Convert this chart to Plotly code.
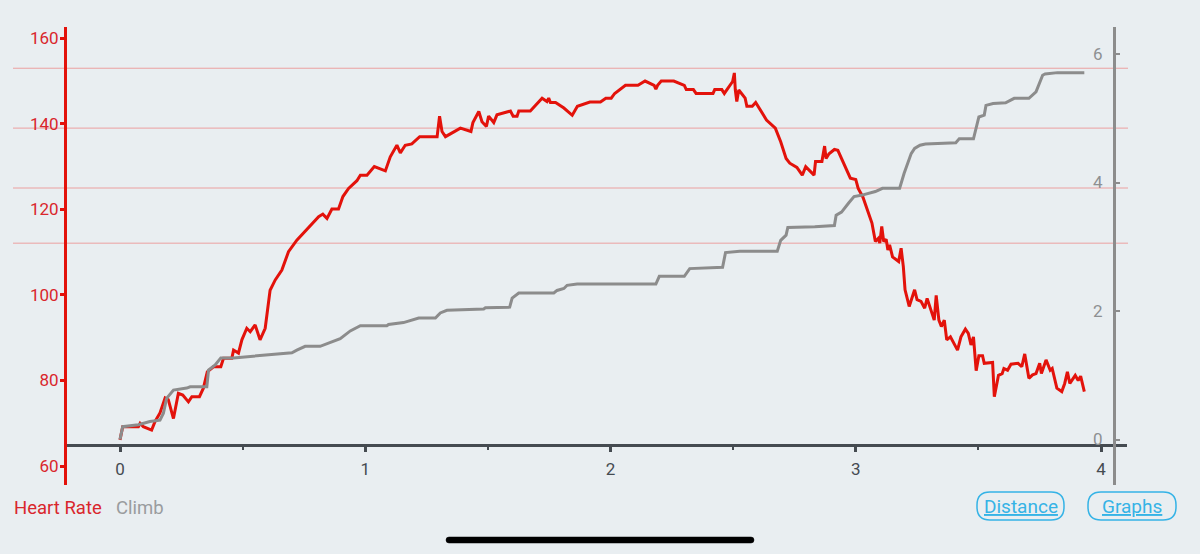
import plotly.graph_objects as go

# ---------------- data ----------------
hr_x = [0.000, 0.011, 0.075, 0.082, 0.095, 0.129, 0.143, 0.163, 0.184, 0.197, 0.218, 0.238, 0.256, 0.279,
        0.293, 0.324, 0.340, 0.356, 0.381, 0.411, 0.422, 0.456, 0.463, 0.483, 0.497, 0.517, 0.531, 0.551,
        0.571, 0.592, 0.612, 0.633, 0.660, 0.687, 0.721, 0.748, 0.776, 0.810, 0.827, 0.844, 0.864, 0.891,
        0.909, 0.932, 0.966, 0.980, 1.007, 1.037, 1.082, 1.102, 1.129, 1.143, 1.163, 1.190, 1.222, 1.293,
        1.303, 1.313, 1.327, 1.388, 1.431, 1.439, 1.463, 1.476, 1.494, 1.503, 1.524, 1.537, 1.592, 1.603,
        1.619, 1.626, 1.673, 1.721, 1.741, 1.748, 1.755, 1.776, 1.810, 1.844, 1.865, 1.916, 1.959, 1.981,
        2.003, 2.017, 2.061, 2.112, 2.141, 2.178, 2.185, 2.192, 2.207, 2.258, 2.301, 2.309, 2.338, 2.349,
        2.418, 2.425, 2.454, 2.464, 2.498, 2.505, 2.509, 2.515, 2.523, 2.549, 2.556, 2.578, 2.592, 2.614,
        2.636, 2.672, 2.694, 2.716, 2.731, 2.760, 2.782, 2.796, 2.818, 2.830, 2.836, 2.862, 2.873, 2.879,
        2.891, 2.913, 2.927, 2.978, 3.000, 3.010, 3.029, 3.066, 3.080, 3.092, 3.098, 3.106, 3.114, 3.124,
        3.131, 3.138, 3.150, 3.164, 3.175, 3.185, 3.194, 3.201, 3.218, 3.240, 3.250, 3.266, 3.281, 3.291,
        3.303, 3.320, 3.328, 3.339, 3.349, 3.361, 3.371, 3.386, 3.415, 3.429, 3.447, 3.459, 3.470, 3.480,
        3.491, 3.502, 3.517, 3.524, 3.558, 3.565, 3.582, 3.597, 3.604, 3.619, 3.633, 3.662, 3.677, 3.689,
        3.706, 3.721, 3.735, 3.750, 3.757, 3.776, 3.793, 3.801, 3.820, 3.840, 3.852, 3.863, 3.873, 3.895,
        3.907, 3.917, 3.932]
hr_y = [66.1, 69.2, 69.2, 70.0, 69.2, 68.4, 70.4, 72.4, 75.9, 75.5, 71.1, 77.0, 76.6, 75.0,
        76.2, 76.2, 78.2, 82.0, 83.2, 83.2, 85.2, 85.2, 87.1, 86.4, 89.5, 92.2, 91.4, 93.0,
        89.5, 92.2, 101.1, 103.5, 105.8, 110.1, 112.8, 114.4, 116.3, 118.3, 118.9, 117.9, 120.1, 120.1,
        123.0, 124.9, 126.7, 128.0, 128.0, 130.0, 129.0, 132.3, 135.0, 133.2, 135.0, 135.3, 137.0, 137.0,
        141.8, 138.2, 137.0, 139.0, 138.2, 140.3, 142.9, 140.5, 139.4, 141.8, 140.3, 142.1, 143.0, 141.8,
        141.8, 143.0, 143.0, 146.0, 145.2, 146.0, 145.0, 145.0, 143.7, 142.0, 144.1, 145.1, 145.1, 146.0,
        146.0, 147.1, 149.0, 149.0, 150.0, 149.0, 148.1, 149.0, 150.0, 150.0, 149.0, 148.0, 148.0, 147.1,
        147.1, 148.0, 148.0, 147.1, 149.9, 151.9, 147.9, 145.2, 147.9, 146.0, 144.1, 144.1, 145.0, 142.9,
        140.9, 139.0, 135.8, 131.9, 130.8, 129.8, 128.0, 130.0, 128.8, 128.0, 131.2, 131.2, 134.8, 131.9,
        133.0, 134.0, 133.8, 127.3, 127.0, 124.9, 122.9, 116.8, 112.5, 113.2, 112.1, 116.0, 112.5, 113.0,
        110.5, 111.7, 108.9, 108.2, 107.8, 110.9, 106.6, 101.2, 97.3, 101.2, 98.9, 98.5, 96.9, 99.2,
        96.9, 94.1, 99.9, 94.1, 92.6, 94.1, 89.5, 90.2, 87.1, 90.2, 92.0, 91.0, 88.3, 90.2,
        82.3, 85.8, 85.8, 84.0, 84.2, 76.2, 81.2, 81.6, 82.8, 82.4, 83.8, 84.0, 83.2, 86.2,
        80.5, 81.3, 81.6, 84.0, 81.6, 84.8, 82.4, 82.8, 78.2, 77.4, 79.3, 82.0, 79.3, 81.2,
        80.0, 81.0, 77.4]

climb_x = [0.000, 0.011, 0.075, 0.122, 0.163, 0.177, 0.190, 0.218, 0.272, 0.286, 0.354, 0.361, 0.388,
           0.411, 0.463, 0.558, 0.639, 0.701, 0.721, 0.755, 0.816, 0.844, 0.898, 0.939, 0.980, 1.088,
           1.095, 1.156, 1.218, 1.286, 1.306, 1.333, 1.483, 1.490, 1.589, 1.599, 1.626, 1.769, 1.782,
           1.810, 1.823, 1.864, 2.185, 2.199, 2.301, 2.323, 2.457, 2.469, 2.527, 2.680, 2.694, 2.716,
           2.723, 2.833, 2.913, 2.920, 2.942, 2.971, 2.993, 3.022, 3.080, 3.109, 3.179, 3.197, 3.226,
           3.240, 3.262, 3.284, 3.408, 3.422, 3.480, 3.502, 3.524, 3.531, 3.560, 3.611, 3.646, 3.706,
           3.735, 3.762, 3.772, 3.823, 3.932]
climb_y = [0.00, 0.20, 0.23, 0.28, 0.30, 0.41, 0.64, 0.77, 0.80, 0.82, 0.82, 1.08, 1.16,
           1.27, 1.27, 1.30, 1.32, 1.35, 1.39, 1.45, 1.45, 1.49, 1.57, 1.69, 1.77, 1.77,
           1.79, 1.82, 1.89, 1.89, 1.97, 2.01, 2.03, 2.05, 2.06, 2.20, 2.28, 2.28, 2.32,
           2.35, 2.40, 2.42, 2.42, 2.54, 2.54, 2.66, 2.68, 2.91, 2.93, 2.93, 3.10, 3.18,
           3.30, 3.31, 3.33, 3.49, 3.54, 3.68, 3.78, 3.80, 3.86, 3.91, 3.91, 4.14, 4.45,
           4.53, 4.58, 4.60, 4.62, 4.68, 4.68, 5.02, 5.05, 5.20, 5.23, 5.24, 5.31, 5.31,
           5.41, 5.67, 5.69, 5.71, 5.71]

hr_ticks = [60, 80, 100, 120, 140, 160]
climb_ticks = [0, 2, 4, 6]
dist_ticks = [0, 1, 2, 3, 4]
hr_zones = [112.1, 125, 139, 153]
legend_labels = ["Heart Rate", "Climb"]
button_labels = ["Distance", "Graphs"]

# ---------------- styling / geometry ----------------
W, H = 1200, 554
L, R, T, B = 67, 1127, 27, 485   # plot area in px
BG = "#E9EEF1"
RED = "#E3120B"
RED_TXT = "#D9262C"
GRAY = "#8C8C8C"
GRAY_TXT = "#8E9092"
DARK = "#454B51"
BLUE = "#35B3E6"
ZONE = "#EBA0A0"
FONT = "Roboto"


def xp(px):
    return (px - L) / (R - L)


def yp(py):
    return (B - py) / (B - T)


# pixel -> data mapping for axes (derived from reference geometry)
x0_px, x_unit = 120.0, 245.25
hr60_px, hr_unit = 466.0, 4.277
c0_px, c_unit = 439.5, 64.25

x_range = [(L - x0_px) / x_unit, (R - x0_px) / x_unit]
hr_range = [60 + (hr60_px - B) / hr_unit, 60 + (hr60_px - T) / hr_unit]
c_range = [(c0_px - B) / c_unit, (c0_px - T) / c_unit]

fig = go.Figure()

fig.add_trace(go.Scatter(x=climb_x, y=climb_y, mode="lines", yaxis="y2",
                         line=dict(color=GRAY, width=3), name="Climb", showlegend=False))
fig.add_trace(go.Scatter(x=hr_x, y=hr_y, mode="lines", yaxis="y",
                         line=dict(color=RED, width=3), name="Heart Rate", showlegend=False))

shapes = []
for z in hr_zones:
    shapes.append(dict(type="line", xref="paper", yref="y", x0=xp(13), x1=xp(1128), y0=z, y1=z,
                       line=dict(color=ZONE, width=1), layer="below"))


def rounded_rect(x0, y0, x1, y1, r):
    rx = r / (R - L)
    ry = r / (B - T)
    a, b = xp(x0), xp(x1)
    top, bot = yp(y0), yp(y1)
    p = (f"M {a+rx},{top} L {b-rx},{top} Q {b},{top} {b},{top-ry} "
         f"L {b},{bot+ry} Q {b},{bot} {b-rx},{bot} L {a+rx},{bot} "
         f"Q {a},{bot} {a},{bot+ry} L {a},{top-ry} Q {a},{top} {a+rx},{top} Z")
    return p


boxes = [(977, 492, 1064, 520), (1088, 492, 1176, 520)]
for (bx0, by0, bx1, by1) in boxes:
    shapes.append(dict(type="path", xref="paper", yref="paper",
                       path=rounded_rect(bx0, by0, bx1, by1, 13),
                       line=dict(color=BLUE, width=1.5), fillcolor="rgba(0,0,0,0)"))

# home indicator bar
shapes.append(dict(type="path", xref="paper", yref="paper",
                   path=rounded_rect(446, 537, 754, 543, 3),
                   line=dict(color="black", width=0.5), fillcolor="black"))

annotations = [
    dict(text=legend_labels[0], xref="paper", yref="paper", x=xp(12), y=yp(508),
         xanchor="left", yanchor="middle", showarrow=False,
         font=dict(family=FONT, size=18.5, color=RED_TXT)),
    dict(text=legend_labels[1], xref="paper", yref="paper", x=xp(114), y=yp(508),
         xanchor="left", yanchor="middle", showarrow=False,
         font=dict(family=FONT, size=18.5, color="#9A9C9E")),
]
for lbl, (bx0, by0, bx1, by1) in zip(button_labels, boxes):
    annotations.append(dict(text=f"<u>{lbl}</u>", xref="paper", yref="paper",
                            x=xp((bx0 + bx1) / 2), y=yp((by0 + by1) / 2),
                            xanchor="center", yanchor="middle", showarrow=False,
                            font=dict(family=FONT, size=19, color=BLUE)))

fig.update_layout(
    width=W, height=H,
    margin=dict(l=L, r=W - R, t=T, b=H - B, pad=0),
    paper_bgcolor=BG, plot_bgcolor=BG,
    showlegend=False,
    font=dict(family=FONT),
    xaxis=dict(range=x_range, anchor="free", position=(B - 445) / (B - T),
               showgrid=False, zeroline=False,
               showline=True, linecolor=DARK, linewidth=2.5,
               tickvals=dist_ticks, ticktext=[str(v) for v in dist_ticks],
               ticks="outside", ticklen=5, tickwidth=2.5, tickcolor=DARK,
               minor=dict(dtick=0.5, ticks="outside", ticklen=3, tickwidth=2, tickcolor=DARK,
                          showgrid=False),
               tickfont=dict(family=FONT, size=17, color=DARK), ticklabelstandoff=3),
    yaxis=dict(range=hr_range, showgrid=False, zeroline=False,
               showline=True, linecolor=RED, linewidth=3,
               tickvals=hr_ticks, ticks="outside", ticklen=4, tickwidth=3, tickcolor=RED,
               tickfont=dict(family=FONT, size=17, color=RED_TXT), ticklabelstandoff=-2),
    yaxis2=dict(range=c_range, overlaying="y", side="left", anchor="free",
                position=xp(1114), showgrid=False, zeroline=False,
                showline=True, linecolor=GRAY, linewidth=3,
                tickvals=climb_ticks, ticks="inside", ticklen=4, tickwidth=2, tickcolor=GRAY,
                ticklabelstandoff=7,
                tickfont=dict(family=FONT, size=17, color=GRAY_TXT)),
    shapes=shapes,
    annotations=annotations,
)

fig.write_html("out.html", config={"displayModeBar": False},
               post_script="document.body.style.margin='0';document.body.style.overflow='hidden';")
